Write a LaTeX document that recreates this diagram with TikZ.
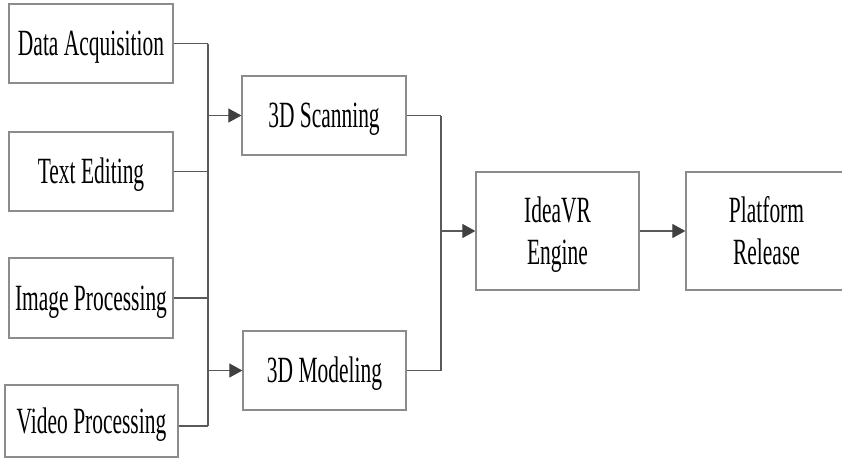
\documentclass[tikz,border=0pt]{standalone}
\usepackage{fontspec}
\setmainfont{Liberation Serif}[FakeStretch=0.58]
\usetikzlibrary{arrows.meta}
\definecolor{boxline}{HTML}{8C8C8C}
\definecolor{conline}{HTML}{5A5A5A}
\definecolor{tipcol}{HTML}{404040}
\begin{document}
\begin{tikzpicture}[x=1pt,y=-1pt,
  box/.style={draw=boxline, line width=1.3pt, inner sep=0pt,
    font=\fontsize{37}{42}\selectfont, text height=24pt, text depth=0pt, align=center},
  twoline/.style={box, text height=66pt, text depth=0pt},
  conn/.style={draw=conline, line width=1.2pt},
  arr/.style={conn, -{Triangle[length=13pt,width=14pt,color=tipcol,fill=tipcol]}}]
\clip (0,0) rectangle (842,467);
\fill[white] (0,0) rectangle (842,467);

% left column
\node[box, minimum width=164pt, minimum height=79pt] (da) at (91,43.5) {Data Acquisition};
\node[box, minimum width=164pt, minimum height=79pt] (te) at (91,171.5) {Text Editing};
\node[box, minimum width=164pt, minimum height=80pt] (ip) at (91,298) {Image Processing};
\node[box, minimum width=173pt, minimum height=72pt] (vp) at (91.5,421) {Video Processing};

% middle column
\node[box, minimum width=164pt, minimum height=79pt] (sc) at (324,115.5) {3D Scanning};
\node[box, minimum width=163pt, minimum height=79pt] (md) at (324.5,370.5) {3D Modeling};

% right
\node[twoline, minimum width=163pt, minimum height=118pt] (ie) at (557.5,231) {IdeaVR\\Engine};
\node[twoline, minimum width=161pt, minimum height=118pt] (pr) at (766.5,231) {Platform\\Release};

% bus coordinates
\coordinate (b1) at (208,0);
\coordinate (b2) at (441,0);
\coordinate (vpo) at ([yshift=-5pt]vp.east);

% left bus
\draw[conn] (da.east) -- (da.east -| b1);
\draw[conn] (te.east) -- (te.east -| b1);
\draw[conn] (ip.east) -- (ip.east -| b1);
\draw[conn] (vpo) -- (vpo -| b1);
\draw[conn] (da.east -| b1) -- (vpo -| b1);
\draw[arr] (sc.west -| b1) -- (sc.west);
\draw[arr] (md.west -| b1) -- (md.west);

% right bus
\draw[conn] (sc.east) -- (sc.east -| b2);
\draw[conn] (md.east) -- (md.east -| b2);
\draw[conn] (sc.east -| b2) -- (md.east -| b2);
\draw[arr] (ie.west -| b2) -- (ie.west);
\draw[arr] (ie.east) -- (pr.west);
\end{tikzpicture}
\end{document}
